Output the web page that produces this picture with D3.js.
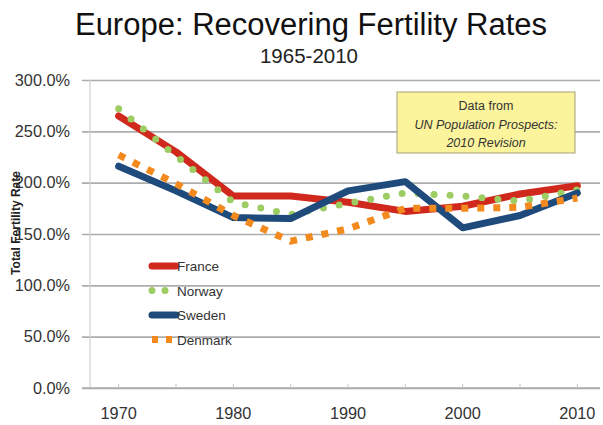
<!DOCTYPE html>
<html>
<head>
<meta charset="utf-8">
<script src="https://cdn.jsdelivr.net/npm/d3@7"></script>
<style>
  html, body { margin: 0; padding: 0; background: #ffffff; }
  svg { display: block; font-family: "Liberation Sans", Arial, sans-serif; }
</style>
</head>
<body>
<svg id="chart" width="603" height="425"></svg>
<script>
// Total fertility rate per five-year period, shown as percent
const years   = [1970, 1975, 1980, 1985, 1990, 1995, 2000, 2005, 2010];
const france  = [265, 230, 187, 187, 181, 172, 177, 189, 197];
const norway  = [272, 226, 181, 169, 180, 190, 187, 182, 193];
const sweden  = [216, 192, 166, 165, 192, 201, 156, 168, 190];
const denmark = [227, 199, 168, 143, 155, 175, 175, 176, 185];
const yTicks  = [0, 50, 100, 150, 200, 250, 300];
const xLabels = [1970, 1980, 1990, 2000, 2010];
const seriesNames = ["France", "Norway", "Sweden", "Denmark"];

const series = [
  { name: seriesNames[0], values: france,  color: "#d0281c", width: 7, dash: null, cap: "round" },
  { name: seriesNames[1], values: norway,  color: "#9dcc63", width: 7, dash: "0 16", cap: "round" },
  { name: seriesNames[2], values: sweden,  color: "#1f4a7c", width: 7, dash: null, cap: "round" },
  { name: seriesNames[3], values: denmark, color: "#f28a1e", width: 7, dash: "7 9", cap: "butt" }
];

const svg = d3.select("#chart");
const plotL = 90, plotR = 600, plotT = 80, plotB = 388;

const x = d3.scalePoint().domain(years).range([plotL, 606]).padding(0.5);
const y = d3.scaleLinear().domain([0, 300]).range([plotB, plotT]);

// Title
svg.append("text").attr("x", 311).attr("y", 35).attr("text-anchor", "middle")
  .attr("font-size", 31).attr("fill", "#111").text("Europe: Recovering Fertility Rates");
svg.append("text").attr("x", 309).attr("y", 63).attr("text-anchor", "middle")
  .attr("font-size", 20.5).attr("fill", "#222").text("1965-2010");

// Horizontal gridlines and y labels
const yAxis = d3.axisLeft(y).tickValues(yTicks).tickSize(-(plotR - plotL + 8))
  .tickFormat(d => d3.format(".1f")(d) + "%");
const gy = svg.append("g").attr("transform", `translate(${plotL - 8},0)`).call(yAxis);
gy.select(".domain").remove();
gy.selectAll(".tick line").attr("stroke", "#adadad").attr("stroke-width", 1.6);
gy.selectAll(".tick text").attr("x", -12).attr("font-size", 16.3).attr("fill", "#333")
  .attr("font-family", "'Liberation Sans', Arial, sans-serif");

// Vertical axis line
svg.append("line").attr("x1", plotL).attr("x2", plotL).attr("y1", plotT).attr("y2", plotB)
  .attr("stroke", "#cfcfcf").attr("stroke-width", 1.2);

// Bottom axis line with small inward ticks
svg.append("line").attr("x1", plotL - 8).attr("x2", plotR).attr("y1", plotB).attr("y2", plotB)
  .attr("stroke", "#adadad").attr("stroke-width", 1.6);
svg.append("g").selectAll("line").data(years).join("line")
  .attr("x1", d => x(d)).attr("x2", d => x(d))
  .attr("y1", plotB - 4).attr("y2", plotB)
  .attr("stroke", "#c4c4c4").attr("stroke-width", 1);

// X labels
svg.append("g").selectAll("text").data(xLabels).join("text")
  .attr("x", d => x(d)).attr("y", 419).attr("text-anchor", "middle")
  .attr("font-size", 16.3).attr("fill", "#333").text(d => d);

// Y axis title
svg.append("text").attr("transform", "translate(20,223) rotate(-90)")
  .attr("text-anchor", "middle").attr("font-size", 12).attr("font-weight", "bold")
  .attr("fill", "#222").text("Total Fertility Rate");

// Series lines
const line = d3.line().x((d, i) => x(years[i])).y(d => y(d));
const gLines = svg.append("g");
series.forEach(s => {
  gLines.append("path").datum(s.values).attr("d", line)
    .attr("fill", "none").attr("stroke", s.color).attr("stroke-width", s.width)
    .attr("stroke-linecap", s.cap).attr("stroke-linejoin", "round")
    .attr("stroke-dasharray", s.dash);
});

// Legend
const lg = svg.append("g");
series.forEach((s, i) => {
  const ly = 266 + i * 24.5;
  lg.append("line").attr("x1", 152).attr("x2", 176).attr("y1", ly).attr("y2", ly)
    .attr("stroke", s.color).attr("stroke-width", s.width).attr("stroke-linecap", s.cap)
    .attr("stroke-dasharray", s.dash === "0 16" ? "0 13" : s.dash === "7 9" ? "6 8" : null);
  lg.append("text").attr("x", 177).attr("y", ly + 5).attr("font-size", 13.5)
    .attr("fill", "#333").text(s.name);
});

// Source note box
const note = svg.append("g");
note.append("rect").attr("x", 397).attr("y", 92).attr("width", 178).attr("height", 61)
  .attr("fill", "#fcf49c").attr("stroke", "#a3a07a").attr("stroke-width", 1);
const noteLines = [
  { t: "Data from", italic: false },
  { t: "UN Population Prospects:", italic: true },
  { t: "2010 Revision", italic: true }
];
noteLines.forEach((d, i) => {
  note.append("text").attr("x", 486).attr("y", 110 + i * 18.5).attr("text-anchor", "middle")
    .attr("font-size", 12.5).attr("font-style", d.italic ? "italic" : "normal")
    .attr("fill", "#333").text(d.t);
});
</script>
</body>
</html>
